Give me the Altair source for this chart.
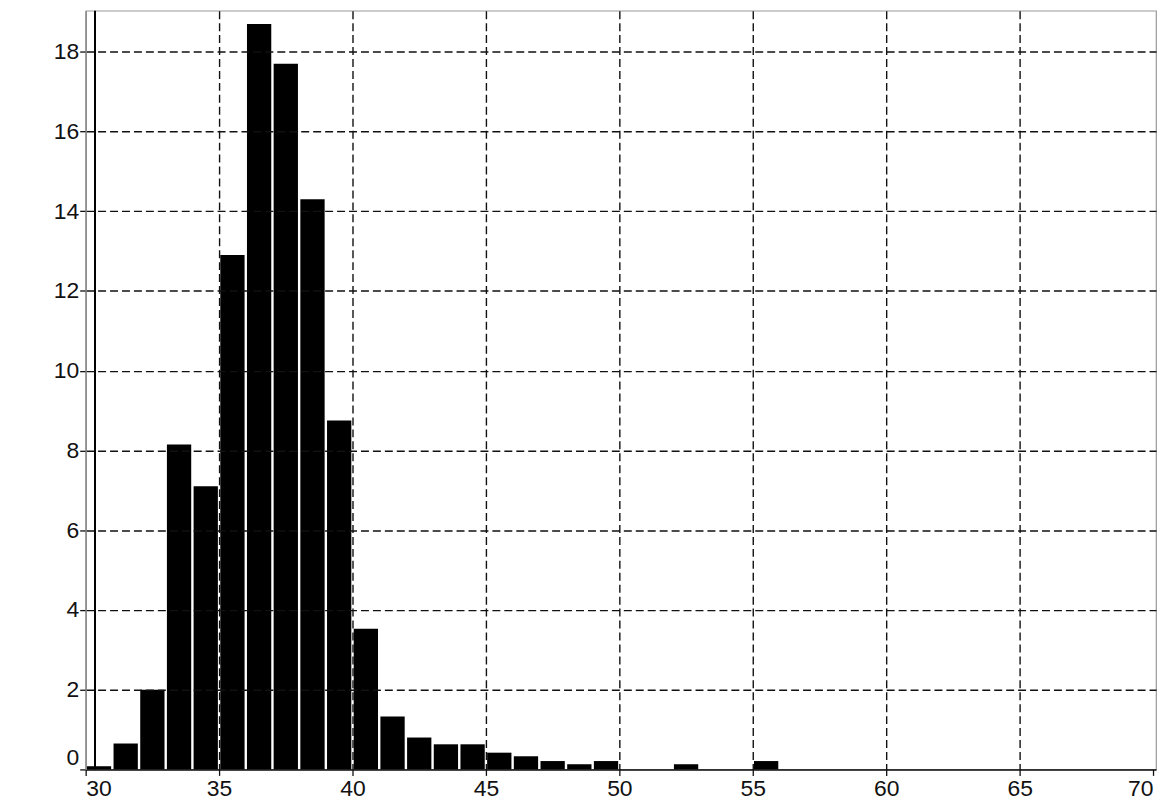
import altair as alt
import pandas as pd

# Histogram bins (width 1) and their heights
bin_start = list(range(30, 56))
density = [0.08, 0.65, 2.0, 8.15, 7.1, 12.9, 18.7, 17.7, 14.3, 8.75,
           3.53, 1.33, 0.8, 0.63, 0.63, 0.42, 0.33, 0.21, 0.13, 0.21,
           0.0, 0.0, 0.13, 0.0, 0.0, 0.21]
marker_x = [30.35]
x_ticks = [30, 35, 40, 45, 50, 55, 60, 65, 70]
y_ticks = [0, 2, 4, 6, 8, 10, 12, 14, 16, 18]

df = pd.DataFrame({
    "start": bin_start,
    "end": [b + 1 for b in bin_start],
    "value": density,
})
df = df[df["value"] > 0]
mk = pd.DataFrame({"x": marker_x})

FONT = "Liberation Sans"
xscale = alt.Scale(domain=[30, 70.11], nice=False, zero=False)
yscale = alt.Scale(domain=[0, 19.03], nice=False, zero=True)

x_axis = alt.Axis(
    values=x_ticks, title=None, grid=True, gridColor="#111", gridWidth=1.4,
    gridDash=[8, 4],
    gridOpacity={"condition": {"test": "datum.value <= 30 || datum.value >= 70", "value": 0}, "value": 1},
    labelFlush=6, labelFont=FONT, labelFontSize=23, labelColor="#111",
    labelPadding=2, tickSize=6, tickColor="#111", tickWidth=1.3,
    domainColor="#111", domainWidth=1.5, zindex=1,
)
y_axis = alt.Axis(
    values=y_ticks, title=None, grid=True, gridColor="#111", gridWidth=1.4,
    gridDash=[8, 4],
    gridOpacity={"condition": {"test": "datum.value <= 0", "value": 0}, "value": 1},
    labelFlush=True, labelFont=FONT, labelFontSize=23, labelColor="#111",
    labelPadding=1, tickSize=6, tickColor="#111", tickWidth=1.3,
    domainColor="#888", domainWidth=1.5, zindex=1,
)

bars = alt.Chart(df).mark_bar(color="black", xOffset=1.2, x2Offset=-1.2).encode(
    x=alt.X("start:Q", scale=xscale, axis=x_axis),
    x2="end:Q",
    y=alt.Y("value:Q", scale=yscale, axis=y_axis),
    y2=alt.datum(0),
)

marker = alt.Chart(mk).mark_rule(color="black", strokeWidth=2).encode(
    x=alt.X("x:Q", scale=xscale),
    y=alt.value(0),
    y2=alt.value(762),
)

chart = alt.layer(bars, marker).properties(
    width=1075,
    height=762,
    padding={"left": 78, "top": 1, "right": 2, "bottom": 33},
    autosize=alt.AutoSizeParams(type="none"),
).configure_view(stroke="#999", strokeWidth=1.2)

chart.save("out.html", embed_options={"renderer": "svg", "actions": False})
